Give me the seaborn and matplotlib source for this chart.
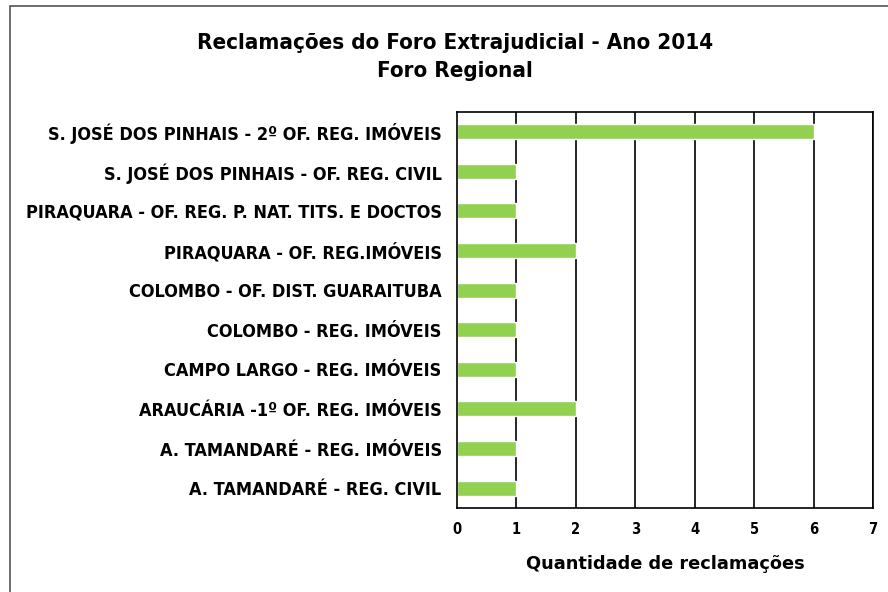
import matplotlib
matplotlib.use("Agg")
import matplotlib.pyplot as plt
import matplotlib.patches as mpatches
import pandas as pd
import seaborn as sns

# categories listed top to bottom as in the chart
cartorios = [
    "S. JOSÉ DOS PINHAIS - 2º OF. REG. IMÓVEIS",
    "S. JOSÉ DOS PINHAIS - OF. REG. CIVIL",
    "PIRAQUARA - OF. REG. P. NAT. TITS. E DOCTOS",
    "PIRAQUARA - OF. REG.IMÓVEIS",
    "COLOMBO - OF. DIST. GUARAITUBA",
    "COLOMBO - REG. IMÓVEIS",
    "CAMPO LARGO - REG. IMÓVEIS",
    "ARAUCÁRIA -1º OF. REG. IMÓVEIS",
    "A. TAMANDARÉ - REG. IMÓVEIS",
    "A. TAMANDARÉ - REG. CIVIL",
]
reclamacoes = [6, 1, 1, 2, 1, 1, 1, 2, 1, 1]
x_ticks = [0, 1, 2, 3, 4, 5, 6, 7]

df = pd.DataFrame({"cartorio": cartorios, "qtd": reclamacoes})

sns.set_theme(style="white")
plt.rcParams["font.family"] = ["DejaVu Sans"]
plt.rcParams["font.stretch"] = "condensed"
plt.rcParams["text.color"] = "black"
plt.rcParams["xtick.color"] = "black"
plt.rcParams["ytick.color"] = "black"
plt.rcParams["axes.labelcolor"] = "black"

fig = plt.figure(figsize=(8.88, 5.92), dpi=100)
ax = fig.add_axes([0.5146, 0.142, 0.4685, 0.669])

sns.barplot(data=df, x="qtd", y="cartorio", orient="h", color="#92D050",
            saturation=1, width=0.38, ax=ax, zorder=3)

ax.set_xlim(0, 7)
ax.set_ylim(9.5, -0.5)
ax.set_xticks(x_ticks)
ax.set_xticklabels([str(t) for t in x_ticks], fontsize=10.5, fontweight="bold")
ax.set_yticks(range(len(cartorios)))
ax.set_yticklabels(cartorios, fontsize=13, fontweight="bold")
ax.tick_params(axis="both", length=0)
ax.tick_params(axis="x", pad=10)
ax.tick_params(axis="y", pad=11)

for x in x_ticks[1:]:
    ax.axvline(x, color="black", linewidth=1.2, zorder=1)
for s in ax.spines.values():
    s.set_visible(True)
    s.set_color("black")
    s.set_linewidth(1.2)
ax.spines["left"].set_zorder(4)

ax.set_ylabel("")
ax.set_xlabel("Quantidade de reclamações", fontsize=12.8, fontweight="bold",
              fontstretch="normal", labelpad=13)

fig.suptitle("Reclamações do Foro Extrajudicial - Ano 2014\nForo Regional",
             x=0.512, y=0.945, fontsize=16, fontweight="bold", linespacing=1.55)

fig.patches.append(mpatches.Rectangle((10 / 888, -0.1), 1.2, 1 - 6 / 592 + 0.1,
                                      transform=fig.transFigure, fill=False,
                                      edgecolor="#555555", linewidth=1.2))

fig.savefig("out.png", dpi=100)
